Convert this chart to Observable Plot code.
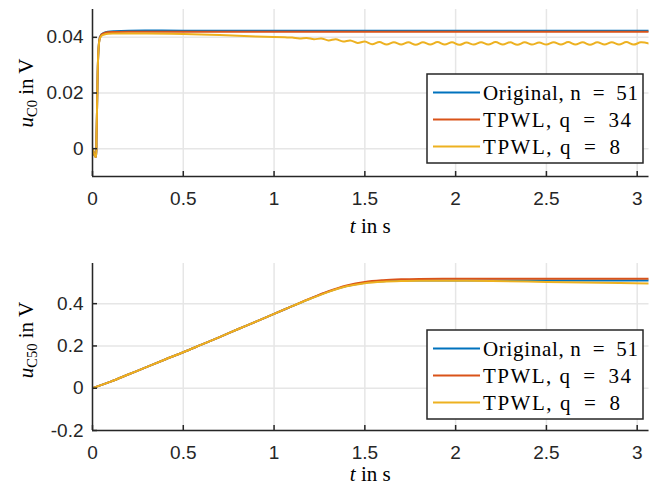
<!DOCTYPE html>
<html><head><meta charset="utf-8">
<script src="https://cdn.jsdelivr.net/npm/d3@7"></script>
<script src="https://cdn.jsdelivr.net/npm/@observablehq/plot@0.6"></script>
<style>body{margin:0;background:#fff;} #c > div{line-height:0;height:auto} svg{display:block}</style>
</head><body><div id="c"></div>
<script>
// ---------- data ----------
const seriesNames = ["Original, n = 51", "TPWL, q = 34", "TPWL, q = 8"];
const seriesColors = ["#0072BD", "#D95319", "#EDB120"];
const xTicks = [0, 0.5, 1, 1.5, 2, 2.5, 3];

// top panel: u_C0
const topYTicks = [0, 0.02, 0.04];
const topT = [0, 0.006, 0.012, 0.018, 0.022, 0.026, 0.03, 0.035, 0.04, 0.05, 0.065, 0.085, 0.12, 0.2, 0.5, 1, 1.5, 2, 2.5, 3.065];
const topOriginal = [0, -0.0012, -0.0025, -0.003, 0.004, 0.018, 0.031, 0.0375, 0.0398, 0.0411, 0.0417, 0.042, 0.0422, 0.0424, 0.0424, 0.0424, 0.0424, 0.0424, 0.0424, 0.0424];
const topQ34 = [0, -0.0012, -0.0025, -0.003, 0.004, 0.018, 0.031, 0.0375, 0.0397, 0.041, 0.0415, 0.0418, 0.0419, 0.042, 0.042, 0.042, 0.042, 0.042, 0.042, 0.042];
const topQ8T = [0, 0.006, 0.012, 0.018, 0.022, 0.026, 0.03, 0.035, 0.04, 0.05, 0.065, 0.085, 0.12, 0.2, 0.3, 0.5, 0.7, 0.9, 1.0, 1.06,
  1.10, 1.14, 1.18, 1.22, 1.26, 1.30, 1.34, 1.38, 1.42, 1.46, 1.50, 1.54, 1.58, 1.62, 1.66, 1.70, 1.74, 1.78, 1.82, 1.86,
  1.90, 1.94, 1.98, 2.02, 2.06, 2.10, 2.14, 2.18, 2.22, 2.26, 2.30, 2.34, 2.38, 2.42, 2.46, 2.50, 2.54, 2.58, 2.62, 2.66,
  2.70, 2.74, 2.78, 2.82, 2.86, 2.90, 2.94, 2.98, 3.02, 3.065];
const topQ8 = [0, -0.0012, -0.0025, -0.003, 0.004, 0.018, 0.031, 0.0373, 0.0395, 0.0406, 0.041, 0.0413, 0.0414, 0.0414, 0.0414, 0.0412, 0.0408, 0.0403, 0.0401, 0.04,
  0.0399, 0.0396, 0.0398, 0.0393, 0.0396, 0.0389, 0.0393, 0.0385, 0.0389, 0.0380, 0.0385, 0.0375, 0.0383, 0.0374, 0.0382, 0.0374, 0.0382, 0.0373, 0.0382, 0.0374,
  0.0383, 0.0374, 0.0382, 0.0373, 0.0381, 0.0374, 0.0382, 0.0374, 0.0383, 0.0374, 0.0382, 0.0373, 0.0382, 0.0374, 0.0381, 0.0374, 0.0382, 0.0374, 0.0383, 0.0374,
  0.0382, 0.0373, 0.0382, 0.0374, 0.0382, 0.0374, 0.0383, 0.0374, 0.0382, 0.0378];

// bottom panel: u_C50
const botYTicks = [-0.2, 0, 0.2, 0.4];
const botT = [0, 0.1, 0.2, 0.3, 0.4, 0.5, 0.6, 0.7, 0.8, 0.9, 1.0, 1.1, 1.2, 1.3, 1.4, 1.5, 1.6, 1.7, 1.8, 2.0, 2.2, 2.5, 2.8, 3.065];
const botOriginal = [0, 0.031, 0.066, 0.101, 0.136, 0.170, 0.206, 0.242, 0.279, 0.315, 0.352, 0.388, 0.424, 0.457, 0.483, 0.499, 0.506, 0.509, 0.510, 0.510, 0.510, 0.510, 0.510, 0.510];
const botQ34 = [0, 0.031, 0.066, 0.101, 0.136, 0.170, 0.206, 0.242, 0.279, 0.315, 0.352, 0.388, 0.425, 0.459, 0.486, 0.503, 0.511, 0.515, 0.517, 0.518, 0.518, 0.518, 0.518, 0.518];
const botQ8 = [0, 0.031, 0.066, 0.101, 0.136, 0.170, 0.206, 0.242, 0.279, 0.315, 0.352, 0.388, 0.423, 0.456, 0.482, 0.497, 0.504, 0.507, 0.508, 0.508, 0.507, 0.503, 0.499, 0.495];

// ---------- drawing ----------
const W = 653, ML = 92, MR = 4.5;
const axisColor = "#262626", gridColor = "#e6e6e6";

function rows(t, v) { return t.map((x, i) => ({t: x, v: v[i]})); }

function panel({height, marginTop, marginBottom, yDomain, yTicks, series, sub, xLabelY, yLabelCenter, legendY}) {
  const plotW = W - ML - MR, plotH = height - marginTop - marginBottom;
  const plot = Plot.plot({
    width: W, height, marginLeft: ML, marginRight: MR, marginTop, marginBottom,
    x: {domain: [0, 3.065]},
    y: {domain: yDomain},
    style: {fontFamily: "Liberation Sans, Arial, sans-serif", fontSize: "19px", color: axisColor, background: "#fff"},
    marks: [
      Plot.gridX(xTicks, {stroke: gridColor, strokeOpacity: 1, strokeWidth: 1.5}),
      Plot.gridY(yTicks, {stroke: gridColor, strokeOpacity: 1, strokeWidth: 1.5}),
      ...series.map((s, i) => Plot.line(rows(s.t, s.v), {x: "t", y: "v", stroke: seriesColors[i], strokeWidth: 2, curve: "catmull-rom", clip: true})),
      Plot.ruleX([0], {stroke: axisColor, strokeWidth: 1.5}),
      Plot.ruleY([yDomain[0]], {stroke: axisColor, strokeWidth: 1.5}),
      Plot.ruleX(xTicks, {stroke: axisColor, strokeWidth: 1.5, insetTop: plotH - 5}),
      Plot.ruleY(yTicks, {stroke: axisColor, strokeWidth: 1.5, insetRight: plotW - 5}),
      Plot.axisX(xTicks, {tickSize: 0, tickPadding: 15, tickFormat: d => String(d), label: null, fill: axisColor}),
      Plot.axisY(yTicks, {tickSize: 0, tickPadding: 9, tickFormat: d => String(d), label: null, fill: axisColor})
    ]
  });
  const svg = d3.select(plot.tagName.toLowerCase() === "svg" ? plot : plot.querySelector("svg"));
  const serif = "Liberation Serif, Times New Roman, serif";
  // x label
  const xl = svg.append("text").attr("x", ML + plotW / 2).attr("y", xLabelY).attr("text-anchor", "middle")
    .attr("font-family", serif).attr("font-size", 21).attr("fill", "#000");
  xl.append("tspan").attr("font-style", "italic").text("t");
  xl.append("tspan").text(" in s");
  // y label
  const yl = svg.append("text").attr("transform", `translate(33,${yLabelCenter}) rotate(-90)`).attr("text-anchor", "middle")
    .attr("font-family", serif).attr("font-size", 21).attr("fill", "#000");
  yl.append("tspan").attr("font-style", "italic").text("u");
  yl.append("tspan").attr("font-size", 14.5).attr("dy", 4).text(sub);
  yl.append("tspan").attr("dy", -4).text(" in V");
  // legend
  const g = svg.append("g").attr("transform", `translate(427,${legendY})`);
  g.append("rect").attr("width", 216).attr("height", 89).attr("fill", "#fff").attr("stroke", axisColor).attr("stroke-width", 1.5);
  const widths = [155, 148, 137];
  seriesNames.forEach((name, i) => {
    const y = 18.5 + i * 27;
    g.append("line").attr("x1", 6).attr("x2", 53).attr("y1", y).attr("y2", y).attr("stroke", seriesColors[i]).attr("stroke-width", 2);
    g.append("text").attr("x", 56).attr("y", y).attr("dy", "0.35em").attr("text-anchor", "start").attr("font-family", serif).attr("font-size", 21)
      .attr("fill", "#000").attr("textLength", widths[i]).attr("lengthAdjust", "spacing")
      .text(name.replace(" = ", "\u2002=\u2002"));
  });
  return plot;
}

const c = document.getElementById("c");
c.appendChild(panel({
  height: 243, marginTop: 9, marginBottom: 67, yDomain: [-0.01, 0.05], yTicks: topYTicks,
  series: [{t: topT, v: topOriginal}, {t: topT, v: topQ34}, {t: topQ8T, v: topQ8}],
  sub: "C0", xLabelY: 233, yLabelCenter: 93, legendY: 74
}));
c.appendChild(panel({
  height: 244, marginTop: 20, marginBottom: 57, yDomain: [-0.2, 0.59], yTicks: botYTicks,
  series: [{t: botT, v: botOriginal}, {t: botT, v: botQ34}, {t: botT, v: botQ8}],
  sub: "C50", xLabelY: 238, yLabelCenter: 97, legendY: 87
}));
</script></body></html>
